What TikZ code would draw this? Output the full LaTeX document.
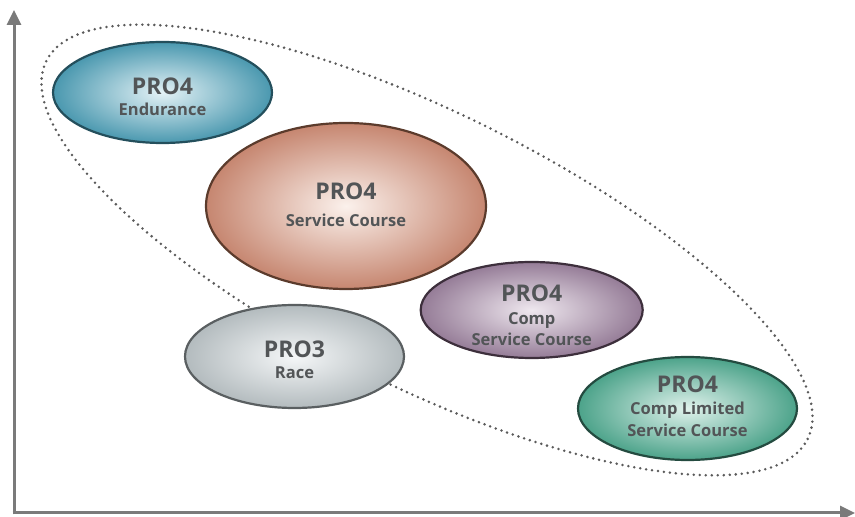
\documentclass[tikz,border=0pt]{standalone}
\usepackage{fontspec}
\setmainfont{Open Sans}
\usetikzlibrary{arrows.meta,shapes.geometric}
\definecolor{txt}{HTML}{525557}
\definecolor{axisc}{HTML}{7A7A7A}
\definecolor{dotc}{HTML}{5A5A5A}
\definecolor{enO}{HTML}{4A98AF}\definecolor{enI}{HTML}{E4F2F6}\definecolor{enB}{HTML}{244F5C}
\definecolor{scO}{HTML}{C68670}\definecolor{scI}{HTML}{FBF1EC}\definecolor{scB}{HTML}{5B3B2C}
\definecolor{cpO}{HTML}{957C97}\definecolor{cpI}{HTML}{EFE8EF}\definecolor{cpB}{HTML}{3D2F3C}
\definecolor{rcO}{HTML}{B3BBBE}\definecolor{rcI}{HTML}{F5F7F8}\definecolor{rcB}{HTML}{5A5F61}
\definecolor{clO}{HTML}{4CA38A}\definecolor{clI}{HTML}{E0F2EC}\definecolor{clB}{HTML}{244B40}
\tikzset{
  blob/.style={ellipse, inner sep=0pt, outer sep=0pt, line width=2.2pt},
  titletxt/.style={anchor=base, inner sep=0pt, text=txt, font=\fontsize{23}{26}\selectfont\bfseries},
  subtxt/.style={anchor=base, inner sep=0pt, text=txt, font=\fontsize{16.5}{19}\selectfont\bfseries},
  axisline/.style={line width=3pt, draw=axisc, -{Triangle[length=15pt,width=14pt]}},
  groupline/.style={draw=dotc, line width=2.8pt, line cap=round, dash pattern=on 0pt off 6pt}
}
\begin{document}
\begin{tikzpicture}[x=1pt,y=1pt]
\useasboundingbox (0,0) rectangle (855,517);
% axes
\coordinate (origin) at (14,4);
\coordinate (ytip) at (14,507);
\coordinate (xtip) at (855,4);
\draw[axisline] ([yshift=-1.5pt]origin) -- (ytip);
\draw[axisline] ([xshift=-1.5pt]origin) -- (xtip);
% dotted group outline
\coordinate (grp) at (427,267);
\draw[groupline, rotate around={-26.4:(grp)}] (grp) ellipse [x radius=425, y radius=137];
% ellipses
\node[blob, draw=enB, inner color=enI, outer color=enO, minimum width=219pt, minimum height=101pt] (endur) at (162.5,424.5) {};
\node[blob, draw=scB, inner color=scI, outer color=scO, minimum width=280pt, minimum height=166pt] (serv) at (346,311) {};
\node[blob, draw=cpB, inner color=cpI, outer color=cpO, minimum width=222pt, minimum height=96pt] (comp) at (531.7,207) {};
\node[blob, draw=rcB, inner color=rcI, outer color=rcO, minimum width=219pt, minimum height=103pt] (race) at (294.5,160.5) {};
\node[blob, draw=clB, inner color=clI, outer color=clO, minimum width=219pt, minimum height=103pt] (climit) at (687.5,108.5) {};
% labels
\node[titletxt] (endurA) at (162.5,422) {PRO4};
\node[subtxt] (endurB) at (162.5,401) {Endurance};
\node[titletxt] (servA) at (346,317) {PRO4};
\node[subtxt] (servB) at (346,290) {Service Course};
\node[titletxt] (compA) at (531.7,215.3) {PRO4};
\node[subtxt] (compB) at (531.7,192) {Comp};
\node[subtxt] (compC) at (531.7,171.5) {Service Course};
\node[titletxt] (raceA) at (294.5,159.7) {PRO3};
\node[subtxt] (raceB) at (294.5,138) {Race};
\node[titletxt] (climA) at (687.5,124) {PRO4};
\node[subtxt] (climB) at (687.5,102) {Comp Limited};
\node[subtxt] (climC) at (687.5,80) {Service Course};
\end{tikzpicture}
\end{document}
